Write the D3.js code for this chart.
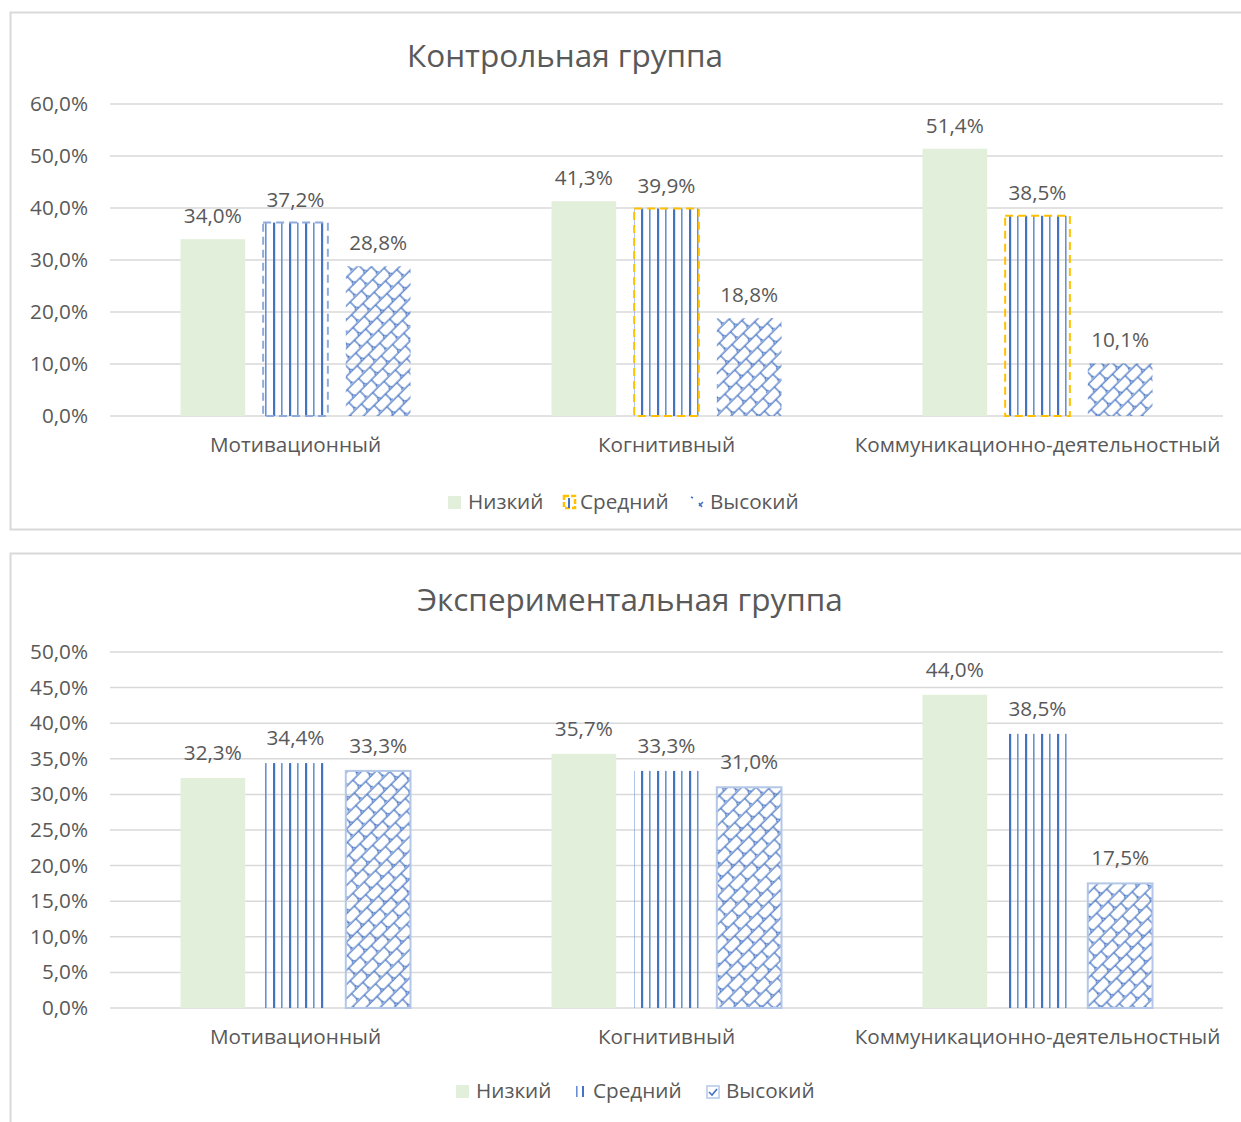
<!DOCTYPE html>
<html><head><meta charset="utf-8">
<script src="https://cdn.jsdelivr.net/npm/d3@7"></script>
<style>
body{margin:0;background:#fff;}
svg text{font-family:"Open Sans","Noto Sans",sans-serif;fill:#595959;}
</style></head>
<body><svg id="c" width="1241" height="1122"></svg>
<script>
const categories = ["Мотивационный","Когнитивный","Коммуникационно-деятельностный"];
const seriesNames = ["Низкий","Средний","Высокий"];
const controlLow = [34.0, 41.3, 51.4];
const controlMid = [37.2, 39.9, 38.5];
const controlHigh = [28.8, 18.8, 10.1];
const expLow = [32.3, 35.7, 44.0];
const expMid = [34.4, 33.3, 38.5];
const expHigh = [33.3, 31.0, 17.5];
const controlTicks = [0,10,20,30,40,50,60];
const expTicks = [0,5,10,15,20,25,30,35,40,45,50];
const controlTitle = "Контрольная группа";
const expTitle = "Экспериментальная группа";

const svg = d3.select("#c");
const blue = "#4472c4";
const FS = "20.7px";
const defs = svg.append("defs");

const pv = defs.append("pattern").attr("id","vlines").attr("patternUnits","userSpaceOnUse")
  .attr("width",16).attr("height",8);
pv.append("rect").attr("x",1).attr("y",0).attr("width",2.2).attr("height",8).attr("fill",blue);
pv.append("rect").attr("x",9).attr("y",0).attr("width",1.6).attr("height",8).attr("fill","#6a8fd4");

const pw = defs.append("pattern").attr("id","weave").attr("patternUnits","userSpaceOnUse")
  .attr("width",16).attr("height",20).attr("patternTransform","rotate(-45)");
pw.append("path").attr("d","M0,1H16M0,11H16M2,1V8M10,11V18").attr("stroke",blue)
  .attr("stroke-width",1.25).attr("fill","none");
pw.append("path").attr("d","M2,8l-2,3M2,8l2,3M10,18l-2,3M10,18l2,3").attr("stroke",blue)
  .attr("stroke-width",1.1).attr("fill","none");

function fmt(v){return v.toFixed(1).replace(".",",")+"%";}

function drawChart(cfg){
  const g = svg.append("g");
  g.append("rect").attr("x",cfg.box[0]).attr("y",cfg.box[1]).attr("width",cfg.box[2]).attr("height",cfg.box[3])
    .attr("fill","none").attr("stroke","#d9d9d9").attr("stroke-width",2);
  g.append("text").attr("x",cfg.titleX).attr("y",cfg.titleY).attr("text-anchor","middle")
    .style("font-size","31.5px").text(cfg.title);
  const y = d3.scaleLinear().domain([0,d3.max(cfg.ticks)]).range([cfg.y0,cfg.y1]);
  const x = d3.scaleBand().domain(categories).range([110,1223]);
  const xs = d3.scaleBand().domain(seriesNames).range([x.bandwidth()*0.19, x.bandwidth()*0.81]).paddingInner(0.217);
  cfg.ticks.forEach(t=>{
    g.append("line").attr("x1",110).attr("x2",1223).attr("y1",y(t)).attr("y2",y(t))
      .attr("stroke","#d9d9d9").attr("stroke-width",1.5);
    g.append("text").attr("x",88).attr("y",y(t)+7).attr("text-anchor","end")
      .style("font-size",FS).text(fmt(t));
  });
  categories.forEach(c=>{
    g.append("text").attr("x",x(c)+x.bandwidth()/2).attr("y",cfg.y0+36).attr("text-anchor","middle")
      .style("font-size",FS).text(c);
  });
  const data = [cfg.low, cfg.mid, cfg.high];
  seriesNames.forEach((s,si)=>{
    data[si].forEach((v,ci)=>{
      const bx = x(categories[ci]) + xs(s);
      const by = y(v), bh = y(0)-y(v), bw = xs.bandwidth();
      const r = g.append("rect").attr("x",bx).attr("y",by).attr("width",bw).attr("height",bh);
      if(si===0){ r.attr("fill","#e2efda"); }
      else if(si===1){
        r.attr("fill","url(#vlines)");
        const st = cfg.midStroke[ci];
        if(st){
          g.append("rect").attr("x",bx).attr("y",by).attr("width",bw).attr("height",bh)
            .attr("fill","none").attr("stroke",st).attr("stroke-width",2).attr("stroke-dasharray","8,5");
        }
      } else {
        r.attr("fill","url(#weave)");
        if(cfg.highStroke){
          r.attr("stroke",cfg.highStroke).attr("stroke-width",2);
        }
      }
      g.append("text").attr("x",bx+bw/2).attr("y",by-cfg.labOff).attr("text-anchor","middle")
        .style("font-size",FS).text(fmt(v));
    });
  });
  const L = cfg.legend;
  g.append("rect").attr("x",L[0]).attr("y",cfg.legY-13).attr("width",13).attr("height",13).attr("fill","#e2efda");
  g.append("text").attr("x",L[0]+20).attr("y",cfg.legY).style("font-size",FS).text(seriesNames[0]);
  if(cfg.top){
    g.append("rect").attr("x",L[1]+2).attr("y",cfg.legY-13).attr("width",11).attr("height",12)
      .attr("fill","none").attr("stroke","#ffc000").attr("stroke-width",2.5).attr("stroke-dasharray","5,2");
    g.append("rect").attr("x",L[1]+6).attr("y",cfg.legY-11).attr("width",2).attr("height",10).attr("fill",blue);
  } else {
    g.append("rect").attr("x",L[1]+1).attr("y",cfg.legY-12).attr("width",1.6).attr("height",11).attr("fill","#6a8fd4");
    g.append("rect").attr("x",L[1]+7).attr("y",cfg.legY-12).attr("width",2).attr("height",11).attr("fill",blue);
  }
  g.append("text").attr("x",L[1]+18).attr("y",cfg.legY).style("font-size",FS).text(seriesNames[1]);
  if(cfg.top){
    g.append("path").attr("d",`M${L[2]+1},${cfg.legY-12}l2,1M${L[2]+9},${cfg.legY-3}l4,-4M${L[2]+9},${cfg.legY-6}l3,4`)
      .attr("stroke",blue).attr("stroke-width",1.6).attr("fill","none");
  } else {
    g.append("rect").attr("x",L[2]+1).attr("y",cfg.legY-12).attr("width",12).attr("height",12)
      .attr("fill","#fff").attr("stroke","#b4c7e7").attr("stroke-width",1.5);
    g.append("path").attr("d",`M${L[2]+3},${cfg.legY-6}l3,3l5,-6`)
      .attr("stroke",blue).attr("stroke-width",1.6).attr("fill","none");
  }
  g.append("text").attr("x",L[2]+20).attr("y",cfg.legY).style("font-size",FS).text(seriesNames[2]);
}

drawChart({top:true, box:[10.5,12.5,1300,517], title:controlTitle, titleX:565, titleY:67,
  ticks:controlTicks, y0:416, y1:104, low:controlLow, mid:controlMid, high:controlHigh,
  midStroke:["#8faadc","#ffc000","#ffc000"], highStroke:null, labOff:16,
  legend:[448,562,690], legY:509});
drawChart({top:false, box:[10.5,553.5,1300,700], title:expTitle, titleX:630, titleY:611,
  ticks:expTicks, y0:1008, y1:652, low:expLow, mid:expMid, high:expHigh,
  midStroke:[null,null,null], highStroke:"#b4c7e7", labOff:18,
  legend:[456,575,706], legY:1098});
</script></body></html>
